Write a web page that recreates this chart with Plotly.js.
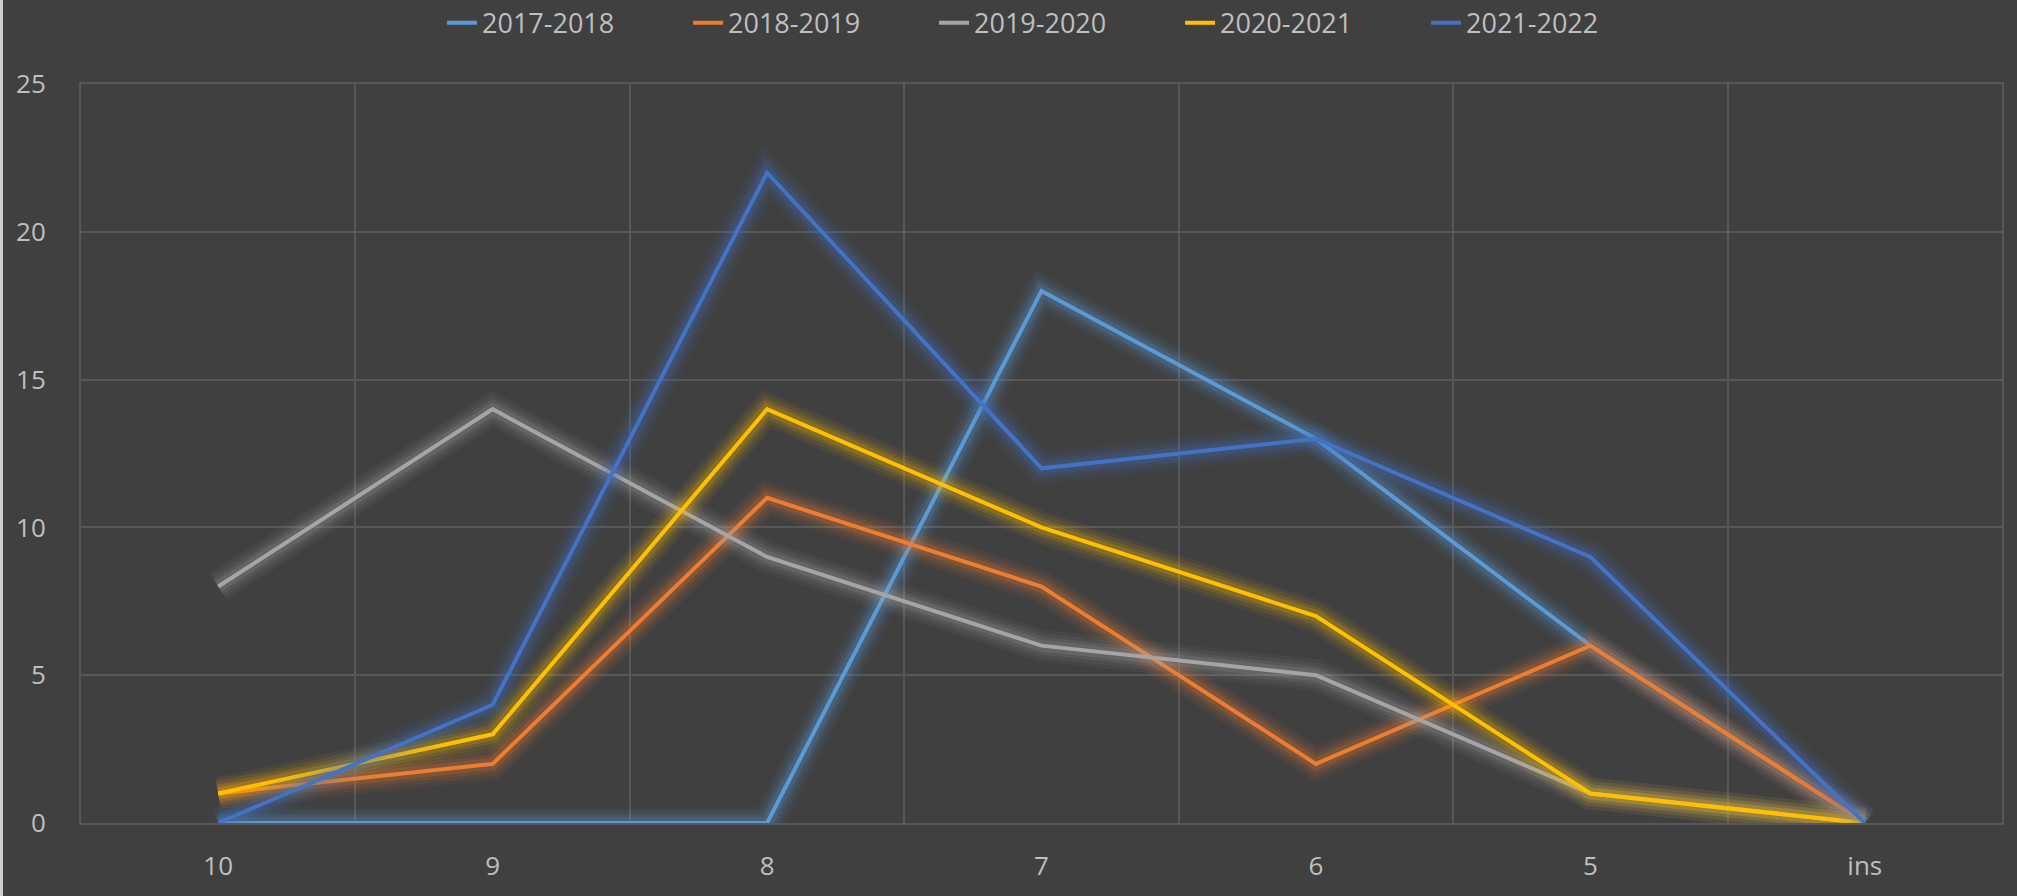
<!DOCTYPE html>
<html>
<head>
<meta charset="utf-8">
<script src="https://cdn.plot.ly/plotly-3.0.1.min.js"></script>
<style>
  html, body { margin: 0; padding: 0; background: #404040; }
  #chart { width: 2017px; height: 896px; box-sizing: border-box; border-left: 3px solid #cfcfcf; }
</style>
</head>
<body>
<div id="chart"></div>
<script>
const categories = ["10", "9", "8", "7", "6", "5", "ins"];
const seriesNames = ["2017-2018", "2018-2019", "2019-2020", "2020-2021", "2021-2022"];
const s2017 = [0, 0, 0, 18, 13, 6, 0];
const s2018 = [1, 2, 11, 8, 2, 6, 0];
const s2019 = [8, 14, 9, 6, 5, 1, 0];
const s2020 = [1, 3, 14, 10, 7, 1, 0];
const s2021 = [0, 4, 22, 12, 13, 9, 0];
const yTicks = [0, 5, 10, 15, 20, 25];

const seriesValues = [s2017, s2018, s2019, s2020, s2021];
const colors = ["#5B9BD5", "#ED7D31", "#A5A5A5", "#FFC000", "#4472C4"];
const glowRGB = ["91,155,213", "237,125,49", "165,165,165", "255,192,0", "68,114,196"];

const traces = [];
seriesValues.forEach((vals, i) => {
  // soft glow layers
  [[32, 0.06], [25, 0.08], [18, 0.12], [12, 0.17]].forEach(([w, a]) => {
    traces.push({
      x: categories, y: vals, type: "scatter", mode: "lines",
      line: { color: `rgba(${glowRGB[i]},${a})`, width: w },
      showlegend: false, hoverinfo: "skip"
    });
  });
  traces.push({
    x: categories, y: vals, type: "scatter", mode: "lines",
    name: seriesNames[i],
    line: { color: colors[i], width: 4 }
  });
});

const font = { family: "Open Sans, sans-serif", size: 26, color: "#BFBFBF" };
const gridC = "#585858";

const layout = {
  width: 2014, height: 896,
  paper_bgcolor: "#404040", plot_bgcolor: "#404040",
  margin: { l: 78, r: 15, t: 84, b: 73, pad: 0 },
  font: font,
  showlegend: true,
  legend: {
    orientation: "h", xref: "container", yref: "container",
    x: 0.218, xanchor: "left", y: 0.974, yanchor: "middle",
    font: { family: "Open Sans, sans-serif", size: 27, color: "#BFBFBF" },
    bgcolor: "rgba(0,0,0,0)", itemwidth: 30, tracegroupgap: 0,
    entrywidth: 201, entrywidthmode: "pixels"
  },
  xaxis: {
    type: "category", categoryorder: "array", categoryarray: categories,
    range: [-0.5, 6.5], tickson: "boundaries",
    showgrid: true, gridcolor: gridC, gridwidth: 2,
    showline: true, mirror: true, linecolor: gridC, linewidth: 2,
    zeroline: false, ticks: "",
    ticklabelstandoff: 19, tickfont: font, fixedrange: true
  },
  yaxis: {
    range: [0, 25], tickvals: yTicks, ticktext: yTicks.map(String),
    showgrid: true, gridcolor: gridC, gridwidth: 2,
    showline: true, mirror: true, linecolor: gridC, linewidth: 2,
    zeroline: false, ticks: "",
    ticklabelstandoff: 28, tickfont: font, fixedrange: true
  }
};

Plotly.newPlot("chart", traces, layout, { displayModeBar: false, staticPlot: true });
</script>
</body>
</html>
